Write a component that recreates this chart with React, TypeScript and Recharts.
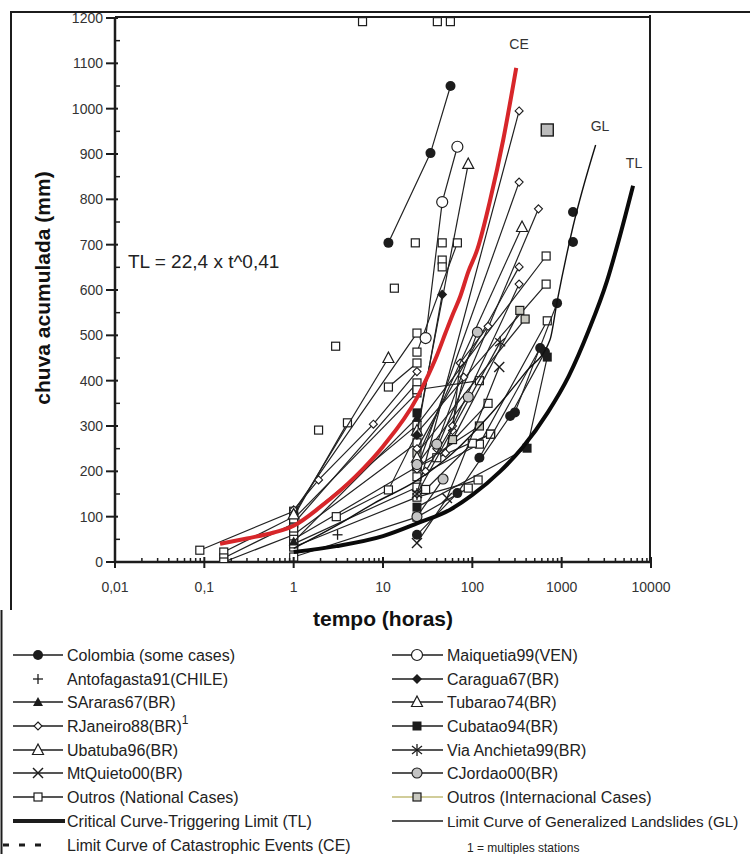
import React from 'react';
import { ScatterChart, Scatter, XAxis, YAxis } from 'recharts';

type Pt = [number, number]; // [tempo (h), chuva acumulada (mm)]
type Poly = Pt[];

const xMajor = [0.01, 0.1, 1, 10, 100, 1000, 10000];
const xLabels = ['0,01', '0,1', '1', '10', '100', '1000', '10000'];

// curvas limite
const curveTL: Poly = [[1, 22], [3, 35], [10, 57], [24, 85], [57, 116], [100, 148], [205, 200], [370, 254], [700, 330], [1200, 410], [2000, 510], [3220, 620], [4500, 720], [6300, 830]];
const curveGL: Poly = [[1, 30], [3, 80], [8, 130], [24, 180], [60, 240], [150, 320], [400, 420], [740, 490], [890, 575], [1340, 740], [2400, 920]];
const curveCE: Poly = [[0.15, 40], [0.3, 52], [0.6, 65], [1, 80], [2, 122], [5, 190], [10, 255], [24, 362], [30, 400], [40, 455], [50, 505], [60, 545], [73, 585], [90, 640], [114, 690], [159, 800], [222, 932], [310, 1090]];

// casos
const colombia: Poly[] = [
  [[11.5, 704], [34, 902], [57, 1050]],
  [[24, 60], [68, 152], [265, 322], [650, 463]],
  [[120, 230], [575, 472]],
  [[300, 330], [888, 571]],
  [[1340, 706]],
  [[1340, 772]],
];
const antofagasta: Poly[] = [[[3.1, 60]]];
const sAraras: Poly[] = [[[1, 45], [24, 318]]];
const rJaneiro: Poly[] = [
  [[1, 115], [1.9, 181], [7.8, 304], [24, 420]],
  [[24, 150], [334, 995]],
  [[24, 205], [334, 838]],
  [[40, 250], [550, 779]],
  [[24, 250], [334, 651]],
  [[60, 290], [73, 439], [150, 520]],
  [[50, 240], [80, 408]],
  [[30, 200], [60, 300], [334, 613]],
];
const ubatuba: Poly[] = [
  [[1, 105], [11.5, 450]],
  [[24, 230], [360, 739]],
];
const mtQuieto: Poly[] = [[[24, 42], [52, 141], [200, 430]]];
const outrosNacional: Poly[] = [
  [[0.089, 26], [1, 112], [24, 505]],
  [[0.165, 22], [1, 100], [4, 307]],
  [[0.165, 9], [1, 85], [24, 395]],
  [[0.165, 0], [1, 60], [24, 263]],
  [[1, 50], [24, 210], [160, 282]],
  [[1, 33], [24, 143], [116, 181]],
  [[1, 11], [24, 99], [90, 163]],
  [[1, 95], [24, 373]],
  [[1, 75], [24, 302], [670, 675]],
  [[1, 40], [24, 165]],
  [[3, 100], [11.5, 159], [24, 285], [670, 613]],
  [[11.5, 386], [24, 439]],
  [[24, 463], [68, 704]],
  [[24, 188], [120, 260], [690, 532]],
  [[24, 380], [120, 400]],
  [[40, 230], [150, 350]],
  [[30, 160], [100, 262], [160, 282]],
  [[1.9, 291]], [[2.95, 476]], [[13.4, 604]], [[23, 704]], [[46, 704]], [[46, 666]], [[46, 651]],
  [[5.9, 1192]], [[40.6, 1192]], [[56.8, 1192]],
];
const maiquetia: Poly[] = [[[30, 494], [46, 794], [68, 916]]];
const caragua: Poly[] = [[[24, 280], [46, 590]]];
const tubarao: Poly[] = [[[24, 290], [90, 878]]];
const cubatao: Poly[] = [[[24, 121], [410, 251], [690, 452]], [[24, 329]]];
const viaAnchieta: Poly[] = [[[24, 150], [205, 485]]];
const cJordao: Poly[] = [
  [[24, 100], [47, 183]],
  [[24, 215], [90, 364]],
  [[40, 260], [114, 507]],
];
const outrosInternacional: Poly[] = [
  [[24, 240], [390, 536]],
  [[24, 210], [120, 300]],
  [[60, 270], [340, 555]],
];
const grandeQuadrado: Poly[] = [[[690, 953]]];

type Kind = 'dot' | 'plus' | 'triFill' | 'diamond' | 'tri' | 'x' | 'square' | 'circle' | 'diamondFill' | 'squareFill' | 'star' | 'greyCircle' | 'greySquare' | 'bigGreySquare' | 'none';

const INK = '#1c1c1c';

function Marker({ kind, cx, cy }: { kind: Kind; cx: number; cy: number }) {
  switch (kind) {
    case 'dot':
      return <circle cx={cx} cy={cy} r={5} fill={INK} />;
    case 'plus':
      return (
        <g stroke={INK} strokeWidth={1.3}>
          <line x1={cx - 5} y1={cy} x2={cx + 5} y2={cy} />
          <line x1={cx} y1={cy - 5} x2={cx} y2={cy + 5} />
        </g>
      );
    case 'triFill':
      return <polygon points={`${cx},${cy - 5} ${cx - 5},${cy + 4} ${cx + 5},${cy + 4}`} fill={INK} />;
    case 'tri':
      return <polygon points={`${cx},${cy - 6} ${cx - 5.5},${cy + 4.5} ${cx + 5.5},${cy + 4.5}`} fill="#fff" stroke={INK} strokeWidth={1.2} />;
    case 'diamond':
      return <polygon points={`${cx},${cy - 4} ${cx + 4},${cy} ${cx},${cy + 4} ${cx - 4},${cy}`} fill="#fff" stroke={INK} strokeWidth={1.1} />;
    case 'diamondFill':
      return <polygon points={`${cx},${cy - 5} ${cx + 5},${cy} ${cx},${cy + 5} ${cx - 5},${cy}`} fill={INK} />;
    case 'x':
      return (
        <g stroke={INK} strokeWidth={1.4}>
          <line x1={cx - 5} y1={cy - 5} x2={cx + 5} y2={cy + 5} />
          <line x1={cx - 5} y1={cy + 5} x2={cx + 5} y2={cy - 5} />
        </g>
      );
    case 'star':
      return (
        <g stroke={INK} strokeWidth={1.3}>
          <line x1={cx - 5} y1={cy - 4} x2={cx + 5} y2={cy + 4} />
          <line x1={cx - 5} y1={cy + 4} x2={cx + 5} y2={cy - 4} />
          <line x1={cx} y1={cy - 6} x2={cx} y2={cy + 6} />
        </g>
      );
    case 'square':
      return <rect x={cx - 4} y={cy - 4} width={8} height={8} fill="#fff" stroke={INK} strokeWidth={1.2} />;
    case 'squareFill':
      return <rect x={cx - 4.5} y={cy - 4.5} width={9} height={9} fill={INK} />;
    case 'greySquare':
      return <rect x={cx - 4} y={cy - 4} width={8} height={8} fill="#c9c9c0" stroke={INK} strokeWidth={1.2} />;
    case 'bigGreySquare':
      return <rect x={cx - 6} y={cy - 6} width={12} height={12} fill="#bcbcbc" stroke={INK} strokeWidth={1.4} />;
    case 'circle':
      return <circle cx={cx} cy={cy} r={5.5} fill="#fff" stroke={INK} strokeWidth={1.2} />;
    case 'greyCircle':
      return <circle cx={cx} cy={cy} r={5} fill="#c4c4c4" stroke={INK} strokeWidth={1.1} />;
    default:
      return <g />;
  }
}

const groups: { polys: Poly[]; kind: Kind }[] = [
  { polys: outrosNacional, kind: 'square' },
  { polys: outrosInternacional, kind: 'greySquare' },
  { polys: rJaneiro, kind: 'diamond' },
  { polys: ubatuba, kind: 'tri' },
  { polys: tubarao, kind: 'tri' },
  { polys: sAraras, kind: 'triFill' },
  { polys: mtQuieto, kind: 'x' },
  { polys: viaAnchieta, kind: 'star' },
  { polys: cJordao, kind: 'greyCircle' },
  { polys: caragua, kind: 'diamondFill' },
  { polys: cubatao, kind: 'squareFill' },
  { polys: maiquetia, kind: 'circle' },
  { polys: colombia, kind: 'dot' },
  { polys: antofagasta, kind: 'plus' },
  { polys: grandeQuadrado, kind: 'bigGreySquare' },
];

const toRows = (p: Poly) => p.map(([t, mm]) => ({ t, mm }));

const xTicks: number[] = [];
xMajor.forEach((m, i) => {
  xTicks.push(m);
  if (i < xMajor.length - 1) for (let k = 2; k <= 9; k++) xTicks.push(+(m * k).toPrecision(3));
});
const yTicks: number[] = [];
for (let v = 0; v <= 1200; v += 50) yTicks.push(v);

const FONT = '"Liberation Sans", Arial, Helvetica, sans-serif';

const XTick = (props: any) => {
  const { x, y, payload } = props;
  const i = xMajor.indexOf(payload.value);
  if (i < 0) return <line x1={x} y1={y - 4} x2={x} y2={y} stroke={INK} strokeWidth={1.5} />;
  return (
    <g>
      <line x1={x} y1={y - 5} x2={x} y2={y + 6} stroke={INK} strokeWidth={2} />
      <text x={x} y={y + 30} textAnchor="middle" fontSize={14} fill="#333" fontFamily={FONT}>{xLabels[i]}</text>
    </g>
  );
};

const YTick = (props: any) => {
  const { x, y, payload } = props;
  if (payload.value % 100 !== 0) return <line x1={x} y1={y} x2={x + 5} y2={y} stroke={INK} strokeWidth={1.5} />;
  return (
    <g>
      <line x1={x - 9} y1={y} x2={x + 3} y2={y} stroke={INK} strokeWidth={2} />
      <text x={x - 12} y={y + 5} textAnchor="end" fontSize={14} fill="#333" fontFamily={FONT}>{payload.value}</text>
    </g>
  );
};

const leftLegend: { label: string; kind: Kind; line: 'thin' | 'none' | 'thick' | 'dash'; sup?: boolean }[] = [
  { label: 'Colombia (some cases)', kind: 'dot', line: 'thin' },
  { label: 'Antofagasta91(CHILE)', kind: 'plus', line: 'none' },
  { label: 'SAraras67(BR)', kind: 'triFill', line: 'thin' },
  { label: 'RJaneiro88(BR)', kind: 'diamond', line: 'thin', sup: true },
  { label: 'Ubatuba96(BR)', kind: 'tri', line: 'thin' },
  { label: 'MtQuieto00(BR)', kind: 'x', line: 'thin' },
  { label: 'Outros (National Cases)', kind: 'square', line: 'thin' },
  { label: 'Critical Curve-Triggering Limit (TL)', kind: 'none', line: 'thick' },
  { label: 'Limit Curve of Catastrophic Events (CE)', kind: 'none', line: 'dash' },
];
const rightLegend: { label: string; kind: Kind; color?: string }[] = [
  { label: 'Maiquetia99(VEN)', kind: 'circle' },
  { label: 'Caragua67(BR)', kind: 'diamondFill' },
  { label: 'Tubarao74(BR)', kind: 'tri' },
  { label: 'Cubatao94(BR)', kind: 'squareFill' },
  { label: 'Via Anchieta99(BR)', kind: 'star' },
  { label: 'CJordao00(BR)', kind: 'greyCircle' },
  { label: 'Outros (Internacional Cases)', kind: 'greySquare', color: '#c2bd78' },
  { label: 'Limit Curve of Generalized Landslides (GL)', kind: 'none' },
];
const rowY = [655, 679, 702, 726, 750, 773, 797, 821, 845];

export default function App() {
  return (
    <div style={{ position: 'absolute', left: 0, top: 0, width: 750, height: 854, background: '#fff', fontFamily: FONT }}>
      <div style={{ position: 'absolute', left: 0, top: 0 }}>
        <ScatterChart width={750} height={600} margin={{ top: 18, right: 99, bottom: 0, left: 0 }}>
          <XAxis
            type="number"
            dataKey="t"
            scale="log"
            domain={[0.01, 10000]}
            allowDataOverflow
            ticks={xTicks}
            interval={0}
            height={38}
            tickSize={0}
            tickMargin={0}
            tick={<XTick />}
            axisLine={{ stroke: INK, strokeWidth: 2.5 }}
          />
          <YAxis
            type="number"
            dataKey="mm"
            domain={[0, 1200]}
            allowDataOverflow
            ticks={yTicks}
            interval={0}
            width={115}
            tickSize={0}
            tickMargin={0}
            tick={<YTick />}
            axisLine={{ stroke: INK, strokeWidth: 2.5 }}
          />
          {groups.flatMap((g, gi) =>
            g.polys.map((p, pi) => (
              <Scatter
                key={`s${gi}-${pi}`}
                data={toRows(p)}
                line={{ stroke: '#222', strokeWidth: 1.2 }}
                shape={(sp: any) => <Marker kind={g.kind} cx={sp.cx} cy={sp.cy} />}
                isAnimationActive={false}
              />
            ))
          )}
          <Scatter data={toRows(curveGL)} line={{ stroke: '#111', strokeWidth: 1.4 }} lineJointType="monotoneX" shape={() => <g />} isAnimationActive={false} />
          <Scatter data={toRows(curveTL)} line={{ stroke: '#0a0a0a', strokeWidth: 4 }} lineJointType="monotoneX" shape={() => <g />} isAnimationActive={false} />
          <Scatter data={toRows(curveCE)} line={{ stroke: '#d7262a', strokeWidth: 4 }} lineJointType="monotoneX" shape={() => <g />} isAnimationActive={false} />
        </ScatterChart>
      </div>
      <svg width={750} height={854} style={{ position: 'absolute', left: 0, top: 0, pointerEvents: 'none' }}>
        {/* moldura */}
        <line x1={10} y1={12} x2={750} y2={12} stroke={INK} strokeWidth={2} />
        <line x1={11} y1={12} x2={11} y2={610} stroke={INK} strokeWidth={2} />
        <line x1={1.5} y1={610} x2={1.5} y2={854} stroke={INK} strokeWidth={2} />
        <line x1={115} y1={17} x2={651} y2={17} stroke={INK} strokeWidth={2} />
        <line x1={650} y1={15} x2={650} y2={562} stroke={INK} strokeWidth={2} />

        <text x={519} y={49} textAnchor="middle" fontSize={14} fill="#333" fontFamily={FONT}>CE</text>
        <text x={600} y={131} textAnchor="middle" fontSize={14} fill="#333" fontFamily={FONT}>GL</text>
        <text x={634} y={168} textAnchor="middle" fontSize={14} fill="#333" fontFamily={FONT}>TL</text>
        <text x={128} y={268} fontSize={19} fill="#222" fontFamily={FONT}>TL = 22,4 x t^0,41</text>

        <text x={383} y={626} textAnchor="middle" fontSize={21} fontWeight="bold" fill="#111" fontFamily={FONT}>tempo (horas)</text>
        <text transform="translate(50,288) rotate(-90)" textAnchor="middle" fontSize={21} fontWeight="bold" fill="#111" fontFamily={FONT}>chuva acumulada (mm)</text>

        {leftLegend.map((it, i) => {
          const y = rowY[i];
          return (
            <g key={`l${i}`}>
              {it.line === 'thin' && <line x1={13} y1={y} x2={63} y2={y} stroke={INK} strokeWidth={1.4} />}
              {it.line === 'thick' && <line x1={13} y1={y} x2={65} y2={y} stroke={INK} strokeWidth={4} />}
              {it.line === 'dash' && <line x1={3} y1={y} x2={43} y2={y} stroke={INK} strokeWidth={3} strokeDasharray="6 10" />}
              <Marker kind={it.kind} cx={38} cy={y} />
              <text x={67} y={y + 5.5} fontSize={16} fill="#222" fontFamily={FONT}>
                {it.label}
                {it.sup && <tspan dy={-8} fontSize={12}>1</tspan>}
              </text>
            </g>
          );
        })}
        {rightLegend.map((it, i) => {
          const y = rowY[i];
          const long = it.label.length > 35;
          return (
            <g key={`r${i}`}>
              <line x1={392} y1={y} x2={443} y2={y} stroke={it.color ?? INK} strokeWidth={1.4} />
              <Marker kind={it.kind} cx={417} cy={y} />
              <text x={447} y={y + 5.5} fontSize={long ? 15.2 : 16} fill="#222" fontFamily={FONT}>
                {it.label}
              </text>
            </g>
          );
        })}
        <text x={467} y={852} fontSize={12} fill="#222" fontFamily={FONT}>1 = multiples stations</text>
      </svg>
    </div>
  );
}
